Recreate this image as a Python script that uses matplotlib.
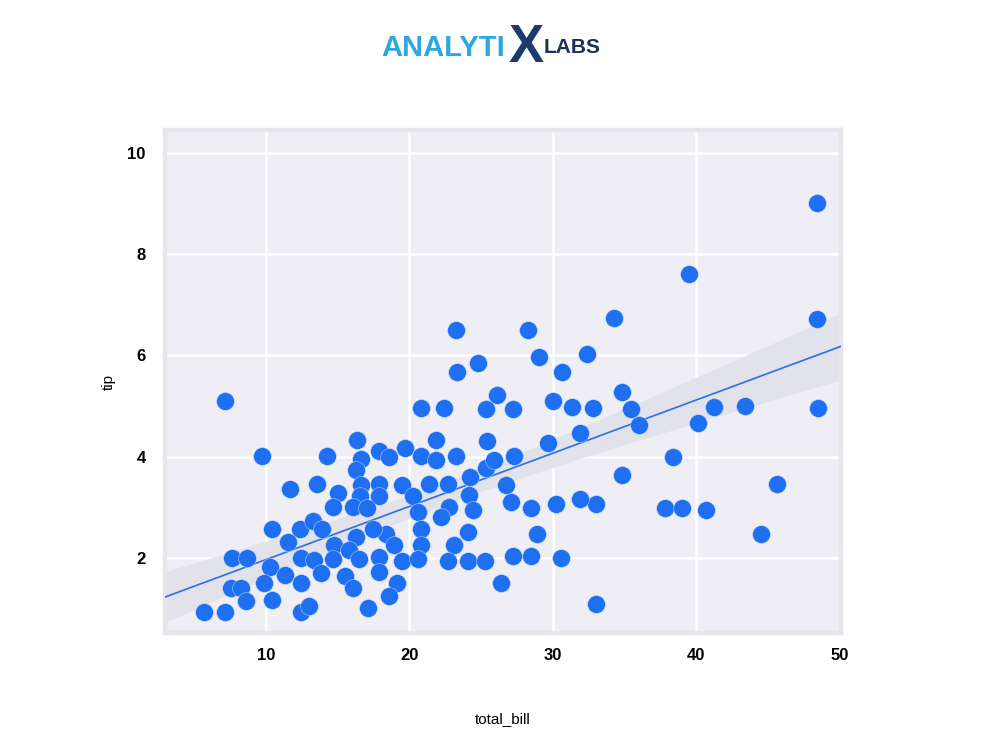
import numpy as np
import matplotlib.pyplot as plt

# datos (total_bill, tip)
total_bill = [48.4, 39.5, 48.4, 34.25, 28.26, 23.24, 32.37, 29.02, 24.77, 23.31,
              30.63, 34.81, 35.44, 35.99, 32.79, 41.22, 43.38, 48.47, 40.10, 38.36,
              34.81, 45.61, 33.0, 37.80, 38.99, 40.66, 44.49, 33.0, 20.80, 22.40,
              25.33, 26.10, 27.21, 30.0, 31.32, 31.88, 29.65, 25.40, 21.85, 19.69,
              17.87, 18.57, 20.80, 21.85, 23.24, 25.33, 25.89, 27.28, 19.48, 21.36,
              22.68, 24.22, 26.72, 20.24, 24.15, 27.07, 28.47, 30.21, 31.88, 20.59,
              22.75, 22.20, 24.43, 18.36, 18.92, 20.80, 20.80, 23.10, 24.08, 28.89,
              17.87, 19.48, 20.59, 22.68, 24.08, 25.26, 27.21, 28.47, 30.56, 17.87,
              19.13, 18.57, 26.38, 7.14, 9.72, 14.25, 16.34, 16.62, 16.27, 16.62,
              17.87, 17.87, 16.55, 11.67, 13.55, 15.02, 14.67, 16.06, 17.04, 10.42,
              12.37, 13.28, 13.90, 11.53, 16.27, 17.46, 14.74, 15.78, 7.63, 8.68,
              10.28, 12.44, 13.34, 14.67, 16.48, 11.32, 13.83, 15.51, 9.86, 12.44,
              16.06, 7.56, 8.26, 8.61, 10.42, 5.68, 7.14, 12.44, 13.0, 17.11]
tip = [9.0, 7.6, 6.72, 6.74, 6.5, 6.5, 6.02, 5.96, 5.86, 5.67,
       5.67, 5.27, 4.95, 4.63, 4.97, 4.99, 5.01, 4.97, 4.67, 3.99,
       3.63, 3.47, 3.06, 2.98, 2.98, 2.94, 2.48, 1.1, 4.97, 4.97,
       4.95, 5.21, 4.95, 5.11, 4.99, 4.47, 4.27, 4.31, 4.33, 4.17,
       4.11, 3.99, 4.01, 3.93, 4.01, 3.77, 3.93, 4.01, 3.45, 3.47,
       3.47, 3.61, 3.45, 3.22, 3.25, 3.1, 2.98, 3.06, 3.16, 2.9,
       3.0, 2.82, 2.94, 2.48, 2.26, 2.58, 2.26, 2.26, 2.52, 2.48,
       2.02, 1.94, 1.98, 1.94, 1.94, 1.94, 2.04, 2.04, 2.0, 1.72,
       1.5, 1.26, 1.5, 5.11, 4.01, 4.01, 4.33, 3.95, 3.73, 3.45,
       3.47, 3.22, 3.22, 3.37, 3.47, 3.29, 3.0, 3.0, 2.98, 2.58,
       2.58, 2.74, 2.58, 2.32, 2.42, 2.58, 2.26, 2.16, 2.0, 2.0,
       1.82, 2.0, 1.96, 1.98, 1.98, 1.66, 1.7, 1.64, 1.5, 1.5,
       1.4, 1.4, 1.4, 1.16, 1.18, 0.94, 0.94, 0.94, 1.06, 1.02]
xticks = [10, 20, 30, 40, 50]
yticks = [2, 4, 6, 8, 10]

# recta de regresion
fit_intercept = 0.92
fit_slope = 0.105

x = np.array(total_bill)
y = np.array(tip)

#Banda de confianza 95% (analitica):
n = len(x)
res = y-(fit_intercept+fit_slope*x)
s = np.sqrt(np.sum(res**2)/(n-2))
sxx = np.sum((x-x.mean())**2)
xlim = (2.95, 50.1)
xg = np.linspace(xlim[0], xlim[1], 200)
yg = fit_intercept+fit_slope*xg
ci = 1.98*s*np.sqrt(1/n+(xg-x.mean())**2/sxx)

#Grafica:
fig = plt.figure(figsize=(9.86, 7.33), dpi=100)
ax = fig.add_axes([0.1673, 0.1364, 0.6857, 0.6862])
ax.set_facecolor('#eeeef4')
ax.grid(True, color='white', linewidth=1.8)
ax.set_axisbelow(True)
for sp in ax.spines.values():
    sp.set_color('#e5e5ea')
    sp.set_linewidth(3.2)

ax.fill_between(xg, yg-ci, yg+ci, color='#e2e2ea', zorder=2, linewidth=0)
ax.plot(xg, yg, color='#2b6fe8', linewidth=1.2, zorder=3)
ax.scatter(x, y, s=165, color='#1f6ff2', edgecolor='#dfe6f5', linewidth=0.3, zorder=4)

ax.set_xlim(xlim)
ax.set_ylim(0.52, 10.45)
ax.set_xticks(xticks)
ax.set_yticks(yticks)
ax.tick_params(length=0, labelsize=12)
ax.tick_params(axis='x', pad=11)
ax.tick_params(axis='y', pad=14)
for lab in ax.get_xticklabels()+ax.get_yticklabels():
    lab.set_fontfamily('Liberation Sans')
    lab.set_fontweight('bold')
ax.set_xlabel('total_bill', fontsize=11, family='Liberation Sans', labelpad=35)
ax.set_ylabel('tip', fontsize=11, family='Liberation Sans', labelpad=8)

#Logo:
fig.text(0.387, 0.935, 'ANALYTI', color='#2aa8e0', fontsize=21, fontweight='bold',
         family='Liberation Sans', va='center', ha='left')
fig.text(0.534, 0.935, 'X', color='#1c3a6e', fontsize=38, fontweight='bold',
         family='Liberation Sans', va='center', ha='center')
fig.text(0.551, 0.935, 'LABS', color='#1c2f5e', fontsize=15, fontweight='bold',
         family='Liberation Sans', va='center', ha='left')

fig.savefig('out.png', dpi=100)
